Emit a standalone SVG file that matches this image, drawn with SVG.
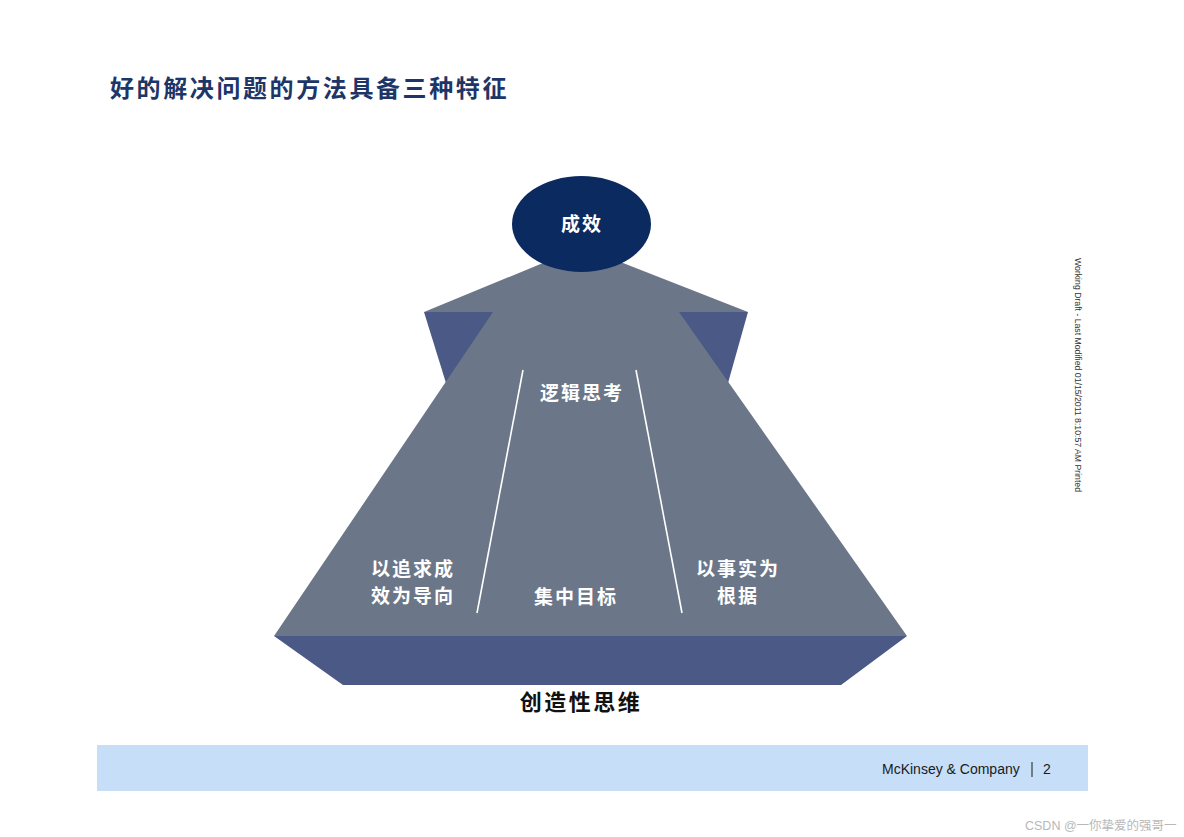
<svg xmlns="http://www.w3.org/2000/svg" width="1184" height="837" viewBox="0 0 1184 837">
<style>
.cn{font-family:"Noto Sans CJK SC","Noto Sans",sans-serif;font-weight:bold;}
.w{fill:#ffffff;font-size:19px;text-anchor:middle;letter-spacing:2px;}
.lat{font-family:"Liberation Sans",Arial,sans-serif;}
.gray{fill:#6b7788;}
.blue{fill:#4a5985;}
</style>
<rect width="1184" height="837" fill="#ffffff"/>
<text id="title" class="cn" x="110" y="97" font-size="24" letter-spacing="2.6" fill="#1d3667">好的解决问题的方法具备三种特征</text>
<g id="side-blocks">
<polygon class="blue" points="424,312 494,312 446,383"/>
<polygon class="blue" points="678,312 748,312 728,383"/>
</g>
<g id="base">
<polygon class="blue" points="274,636 907,636 841,685 343,685"/>
</g>
<g id="body">
<polygon class="gray" points="424,312 543,263 623,263 748,312 679,312 907,636 274,636 493,312"/>
</g>
<g id="connectors" stroke="#ffffff" stroke-width="1.6">
<line x1="523" y1="370" x2="477" y2="613"/>
<line x1="636" y1="370" x2="682" y2="613"/>
</g>
<g id="node-chengxiao">
<ellipse cx="581.5" cy="224" rx="69.5" ry="48" fill="#0b2a5f"/>
<text class="cn w" x="582" y="231" font-size="20">成效</text>
</g>
<g id="node-luoji">
<text class="cn w" x="582" y="400">逻辑思考</text>
</g>
<g id="node-chengxiao-daoxiang">
<text class="cn w" x="413" y="576">以追求成</text>
<text class="cn w" x="413" y="603">效为导向</text>
</g>
<g id="node-jizhong">
<text class="cn w" x="576" y="604">集中目标</text>
</g>
<g id="node-shishi">
<text class="cn w" x="738" y="576">以事实为</text>
<text class="cn w" x="738" y="603">根据</text>
</g>
<g id="node-chuangzao">
<text class="cn" x="581" y="710" font-size="22" text-anchor="middle" letter-spacing="2.5" fill="#111111">创造性思维</text>
</g>
<text class="lat" transform="translate(1075,258) rotate(90)" font-size="8.3" fill="#333333" textLength="234" lengthAdjust="spacingAndGlyphs">Working Draft - Last Modified 01/15/2011 8:10:57 AM   Printed</text>
<g id="footer">
<rect x="97" y="745" width="991" height="46" fill="#c6def7"/>
<text class="lat" x="882" y="774" font-size="14" fill="#1a1a1a">McKinsey &amp; Company</text>
<line x1="1032" y1="762" x2="1032" y2="777" stroke="#1a1a1a" stroke-width="1"/>
<text class="lat" x="1043" y="774" font-size="14" fill="#1a1a1a">2</text>
</g>
<text x="1025" y="830" font-family="'Liberation Sans','Noto Sans CJK SC',sans-serif" font-size="12.5" fill="#b8b8b8">CSDN @一你挚爱的强哥一</text>
</svg>
